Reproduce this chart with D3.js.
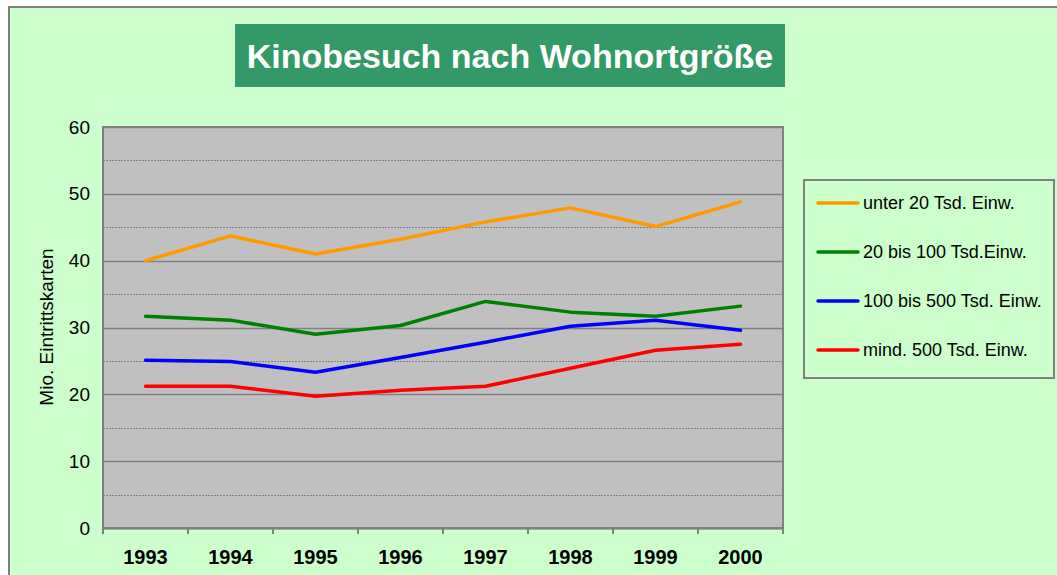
<!DOCTYPE html>
<html>
<head>
<meta charset="utf-8">
<script src="https://cdn.jsdelivr.net/npm/d3@7"></script>
<style>
body { margin: 0; background: #fff; }
svg { display: block; font-family: "Liberation Sans", Arial, sans-serif; }
</style>
</head>
<body>
<svg class="line-chart"></svg>
<script>
var years = ["1993", "1994", "1995", "1996", "1997", "1998", "1999", "2000"];
var seriesNames = ["unter 20 Tsd. Einw.", "20 bis 100 Tsd.Einw.", "100 bis 500 Tsd. Einw.", "mind. 500 Tsd. Einw."];
var seriesColors = ["#FF9900", "#008000", "#0000FF", "#FF0000"];
var unter20 = [40.0, 43.7, 41.0, 43.2, 45.8, 47.9, 45.1, 48.8];
var bis100 = [31.7, 31.1, 29.0, 30.3, 33.9, 32.3, 31.7, 33.2];
var bis500 = [25.1, 24.9, 23.3, 25.5, 27.8, 30.2, 31.1, 29.6];
var mind500 = [21.2, 21.2, 19.7, 20.6, 21.2, 23.9, 26.6, 27.5];
var yTicks = [0, 10, 20, 30, 40, 50, 60];
var title = "Kinobesuch nach Wohnortgröße";
var yLabel = "Mio. Eintrittskarten";

var seriesValues = [unter20, bis100, bis500, mind500];

function drawChart() {
	var svgWidth = 1057, svgHeight = 575;
	var margin = { top: 127, left: 103 };
	var width = 680, height = 401;

	var svg = d3.select(".line-chart")
	.attr("width", svgWidth)
	.attr("height", svgHeight);

	// outer chart background
	svg.append("rect")
	.attr("x", 9).attr("y", 7)
	.attr("width", svgWidth + 10).attr("height", svgHeight + 10)
	.attr("fill", "#CCFFCC")
	.attr("stroke", "#808080")
	.attr("stroke-width", 2);

	// title box
	svg.append("rect")
	.attr("x", 235).attr("y", 24)
	.attr("width", 550).attr("height", 63)
	.attr("fill", "#339966");
	svg.append("text")
	.attr("x", 510).attr("y", 56)
	.attr("dy", "0.35em")
	.attr("text-anchor", "middle")
	.attr("fill", "#fff")
	.attr("font-size", 34)
	.attr("font-weight", "bold")
	.text(title);

	var g = svg.append("g")
	.attr("transform", "translate(" + margin.left + "," + margin.top + ")");

	var x = d3.scaleBand()
	.domain(years)
	.range([0, width]);

	var y = d3.scaleLinear()
	.domain([0, 60])
	.range([height, 0]);

	g.append("rect")
	.attr("width", width).attr("height", height)
	.attr("fill", "#C0C0C0");

	// minor dashed gridlines
	g.selectAll(".minor")
	.data([5, 15, 25, 35, 45, 55])
	.enter().append("line")
	.attr("x1", 0).attr("x2", width)
	.attr("y1", function(d) { return Math.round(y(d)) + 0.5 })
	.attr("y2", function(d) { return Math.round(y(d)) + 0.5 })
	.attr("stroke", "#808080")
	.attr("stroke-dasharray", "2,1");

	// major gridlines
	g.selectAll(".major")
	.data(yTicks)
	.enter().append("line")
	.attr("x1", 0).attr("x2", width)
	.attr("y1", function(d) { return Math.round(y(d)) + 0.5 })
	.attr("y2", function(d) { return Math.round(y(d)) + 0.5 })
	.attr("stroke", "#808080")
	.attr("stroke-width", 1.5);

	g.append("rect")
	.attr("width", width).attr("height", height)
	.attr("fill", "none")
	.attr("stroke", "#808080")
	.attr("stroke-width", 2);

	// y axis
	var yAxis = g.append("g")
	.call(d3.axisLeft(y).tickValues(yTicks).tickSize(0).tickPadding(13));
	yAxis.select(".domain").remove();
	yAxis.selectAll("text")
	.attr("font-size", 19)
	.attr("font-family", "Liberation Sans, Arial, sans-serif")
	.attr("fill", "#000");

	// x axis
	var xAxis = g.append("g")
	.attr("transform", "translate(0," + height + ")")
	.call(d3.axisBottom(x).tickSize(0).tickPadding(22));
	xAxis.select(".domain")
	.attr("stroke", "#808080")
	.attr("stroke-width", 2);
	xAxis.selectAll("text")
	.attr("font-size", 20)
	.attr("font-weight", "bold")
	.attr("font-family", "Liberation Sans, Arial, sans-serif")
	.attr("fill", "#000");

	g.selectAll(".xtick")
	.data(d3.range(years.length + 1))
	.enter().append("line")
	.attr("x1", function(i) { return i * x.step() })
	.attr("x2", function(i) { return i * x.step() })
	.attr("y1", height).attr("y2", height + 6)
	.attr("stroke", "#808080")
	.attr("stroke-width", 2);

	svg.append("text")
	.attr("transform", "translate(53," + (margin.top + 200) + ") rotate(-90)")
	.attr("text-anchor", "middle")
	.attr("font-size", 19)
	.text(yLabel);

	var line = d3.line()
	.x(function(d, i) { return x(years[i]) + x.bandwidth() / 2 })
	.y(function(d) { return y(d) });

	g.selectAll(".series")
	.data(seriesValues)
	.enter().append("path")
	.attr("fill", "none")
	.attr("stroke", function(d, i) { return seriesColors[i] })
	.attr("stroke-width", 3.5)
	.attr("stroke-linejoin", "round")
	.attr("stroke-linecap", "round")
	.attr("d", line);

	// legend
	var lg = svg.append("g");
	lg.append("rect")
	.attr("x", 804).attr("y", 180)
	.attr("width", 250).attr("height", 198)
	.attr("fill", "#CCFFCC")
	.attr("stroke", "#808080")
	.attr("stroke-width", 2);

	var item = lg.selectAll(".item")
	.data(seriesNames)
	.enter().append("g")
	.attr("transform", function(d, i) { return "translate(818," + (203 + i * 49) + ")" });
	item.append("line")
	.attr("x1", 0).attr("x2", 40)
	.attr("stroke", function(d, i) { return seriesColors[i] })
	.attr("stroke-width", 3.5)
	.attr("stroke-linecap", "round");
	item.append("text")
	.attr("x", 45)
	.attr("dy", "0.35em")
	.attr("font-size", 18)
	.text(function(d) { return d });
}

drawChart();
</script>
</body>
</html>
